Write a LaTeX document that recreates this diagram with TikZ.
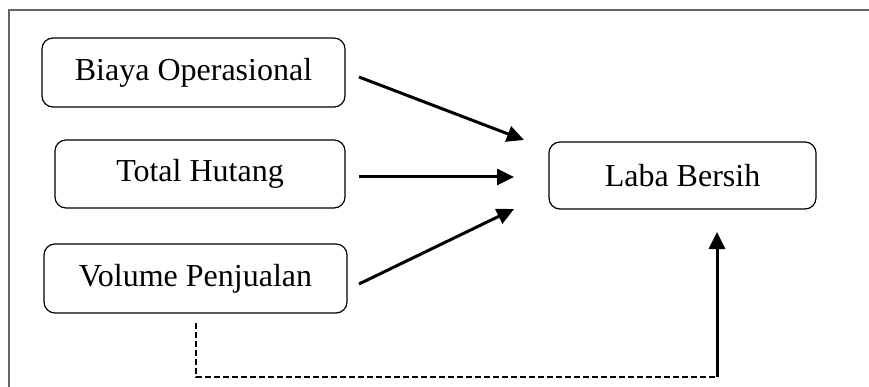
\documentclass[tikz,border=0pt]{standalone}
\usepackage{fontspec}
\setmainfont{Liberation Serif}
\usetikzlibrary{arrows.meta}
\begin{document}
\begin{tikzpicture}[x=1pt,y=-1pt,
  box/.style={draw=black,line width=1.2pt,rounded corners=11pt,inner sep=0pt,
    font=\fontsize{32}{36}\selectfont,text=black},
  link/.style={line width=3pt,-{Triangle[length=17pt,width=16pt]}},
  frame/.style={draw=black!60,line width=1.4pt}]
\useasboundingbox (0,0) rectangle (869,387);
\draw[frame] (9,387) -- (9,10) -- (869,10);
\node[box,minimum width=303pt,minimum height=69pt] (bo) at (193.5,72.5) {Biaya Operasional};
\node[box,minimum width=290pt,minimum height=68pt] (th) at (200,174) {Total Hutang};
\node[box,minimum width=303pt,minimum height=69pt] (vp) at (195.5,278.5) {Volume Penjualan};
\node[box,minimum width=267pt,minimum height=67pt] (lb) at (682.5,175.5) {Laba Bersih};
\coordinate (s1) at (359,77);
\coordinate (e1) at (524,140);
\coordinate (s2) at (359,177);
\coordinate (e2) at (514,177);
\coordinate (s3) at (359,284);
\coordinate (e3) at (514,209);
\coordinate (d0) at (196,323);
\coordinate (c1) at (717,377);
\coordinate (e4) at (717,232);
\draw[link] (s1) -- (e1);
\draw[link] (s2) -- (e2);
\draw[link] (s3) -- (e3);
\draw[line width=1.8pt,dash pattern=on 6pt off 3pt] (d0) |- (c1);
\draw[link] (c1) -- (e4);
\end{tikzpicture}
\end{document}
